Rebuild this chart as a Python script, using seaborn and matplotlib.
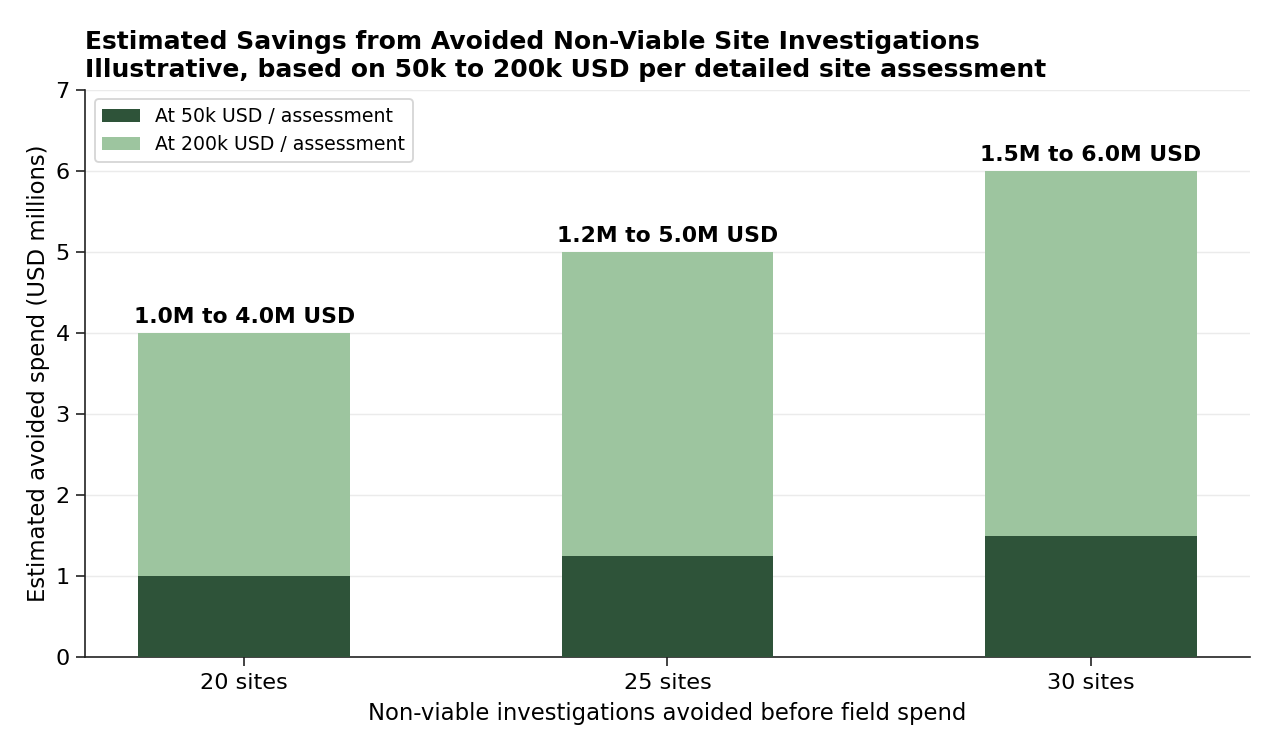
import matplotlib.pyplot as plt
import pandas as pd
import seaborn as sns

categories = ["20 sites", "25 sites", "30 sites"]
low_savings = [1.0, 1.25, 1.5]    # USD millions at 50k per assessment
high_savings = [4.0, 5.0, 6.0]    # USD millions at 200k per assessment

DARK = "#2e5339"
LIGHT = "#9dc59f"

sns.set_theme(style="white")
plt.rcParams['font.family'] = ['DejaVu Sans']
plt.rcParams.update({
    "text.color": "black", "axes.labelcolor": "black",
    "xtick.color": "#222222", "ytick.color": "#222222",
    "xtick.labelcolor": "black", "ytick.labelcolor": "black",
})

df = pd.DataFrame({"sites": categories, "low": low_savings, "high": high_savings})

fig, ax = plt.subplots(figsize=(9.5625, 5.625), dpi=400 / 3)
fig.subplots_adjust(left=0.067, right=0.98, top=0.88, bottom=0.124)

sns.barplot(data=df, x="sites", y="high", color=LIGHT, saturation=1,
            width=0.5, ax=ax, label="At 200k USD / assessment", zorder=2,
            linewidth=0, edgecolor="none")
sns.barplot(data=df, x="sites", y="low", color=DARK, saturation=1,
            width=0.5, ax=ax, label="At 50k USD / assessment", zorder=3,
            linewidth=0, edgecolor="none")

for i, (lo, hi) in enumerate(zip(low_savings, high_savings)):
    ax.text(i, hi + 0.08, f"{lo:.1f}M to {hi:.1f}M USD", ha="center",
            va="bottom", fontsize=11.8, fontweight="bold")

ax.set_xlim(-0.375, 2.375)
ax.set_ylim(0, 7)
ax.yaxis.grid(True, color="#ebebeb", linewidth=0.8)
ax.set_axisbelow(True)
ax.set_xlabel("Non-viable investigations avoided before field spend",
              fontsize=12.3, labelpad=5)
ax.set_ylabel("Estimated avoided spend (USD millions)", fontsize=12.3,
              labelpad=3)
ax.tick_params(axis="both", labelsize=12.1, length=5, width=0.9,
               left=True, bottom=True)
sns.despine(ax=ax)
for s in ("left", "bottom"):
    ax.spines[s].set_color("#222222")
    ax.spines[s].set_linewidth(0.9)

handles, labels = ax.get_legend_handles_labels()
ax.legend(handles[::-1], labels[::-1], loc="upper left", fontsize=10.2,
          frameon=True, edgecolor="#cccccc")

ax.set_title("Estimated Savings from Avoided Non-Viable Site Investigations\n"
             "Illustrative, based on 50k to 200k USD per detailed site assessment",
             loc="left", fontsize=13.5, fontweight="bold", pad=7)

fig.savefig("out.png")
